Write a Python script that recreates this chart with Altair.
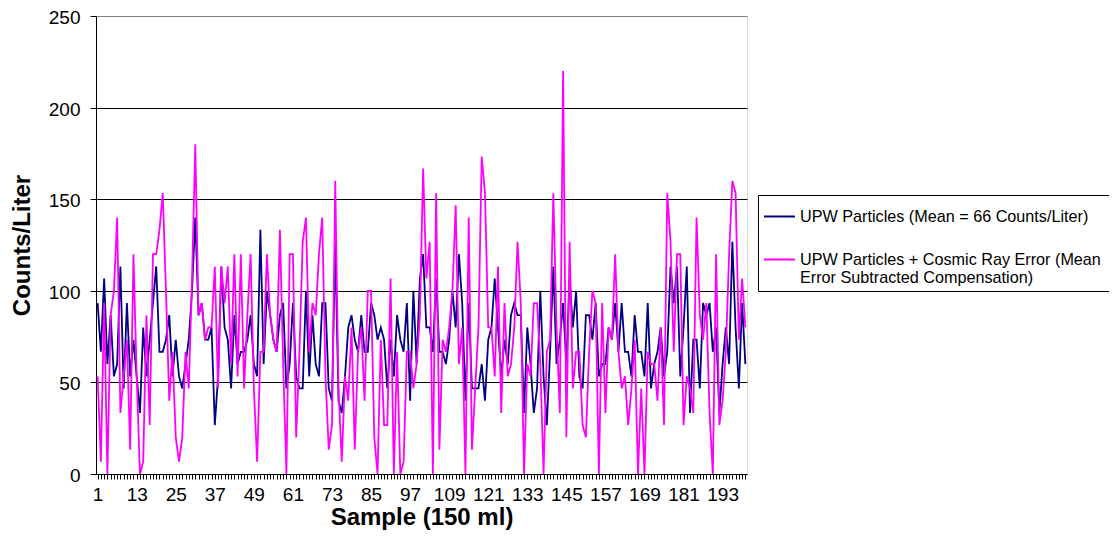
import json
import altair as alt
import pandas as pd

samples = list(range(1, 201))

upw = [
    93.3, 66.7, 106.7, 60, 86.7, 53.3, 60, 113.3, 46.7, 93.3,
    53.3, 73.3, 53.3, 33.3, 80, 53.3, 73.3, 93.3, 113.3, 66.7,
    66.7, 73.3, 86.7, 53.3, 73.3, 53.3, 46.7, 60, 73.3, 100,
    140, 86.7, 93.3, 73.3, 73.3, 80, 26.7, 53.3, 113.3, 80,
    73.3, 46.7, 86.7, 60, 66.7, 66.7, 73.3, 86.7, 60, 53.3,
    133.3, 60, 100, 86.7, 73.3, 66.7, 86.7, 93.3, 46.7, 60,
    93.3, 53.3, 46.7, 46.7, 100, 53.3, 86.7, 60, 53.3, 93.3,
    93.3, 46.7, 40, 126.7, 40, 33.3, 53.3, 80, 86.7, 73.3,
    66.7, 86.7, 66.7, 66.7, 93.3, 86.7, 73.3, 80, 73.3, 46.7,
    73.3, 53.3, 86.7, 73.3, 66.7, 93.3, 40, 100, 60, 106.7,
    120, 80, 80, 66.7, 106.7, 66.7, 66.7, 60, 73.3, 100,
    80, 120, 93.3, 40, 93.3, 46.7, 46.7, 46.7, 60, 40,
    73.3, 80, 106.7, 80, 53.3, 73.3, 60, 86.7, 93.3, 86.7,
    86.7, 33.3, 80, 60, 33.3, 46.7, 100, 53.3, 26.7, 66.7,
    113.3, 60, 73.3, 93.3, 60, 106.7, 80, 100, 53.3, 46.7,
    86.7, 86.7, 73.3, 93.3, 53.3, 60, 60, 80, 73.3, 93.3,
    66.7, 93.3, 66.7, 66.7, 53.3, 86.7, 66.7, 66.7, 53.3, 93.3,
    46.7, 60, 66.7, 80, 53.3, 66.7, 113.3, 93.3, 113.3, 53.3,
    80, 113.3, 33.3, 73.3, 73.3, 46.7, 93.3, 86.7, 93.3, 66.7,
    80, 33.3, 60, 80, 60, 126.7, 80, 46.7, 93.3, 60,
]

cosmic = [
    53.3, 6.7, 93.3, 0, 86.7, 100, 140, 33.3, 53.3, 73.3,
    13.3, 120, 53.3, 0, 6.7, 86.7, 26.7, 120, 120, 133.3,
    153.3, 100, 40, 66.7, 20, 6.7, 20, 66.7, 46.7, 106.7,
    180, 86.7, 93.3, 73.3, 80, 80, 113.3, 46.7, 113.3, 93.3,
    113.3, 60, 120, 53.3, 120, 46.7, 86.7, 120, 46.7, 6.7,
    66.7, 66.7, 120, 86.7, 73.3, 66.7, 133.3, 60, 0, 120,
    120, 20, 66.7, 126.7, 140, 66.7, 93.3, 86.7, 120, 140,
    53.3, 13.3, 26.7, 160, 46.7, 6.7, 53.3, 40, 80, 13.3,
    66.7, 80, 40, 100, 100, 20, 0, 73.3, 26.7, 26.7,
    106.7, 0, 66.7, 0, 6.7, 66.7, 66.7, 46.7, 60, 86.7,
    166.7, 106.7, 126.7, 0, 153.3, 13.3, 73.3, 66.7, 80, 100,
    146.7, 60, 80, 0, 140, 13.3, 46.7, 80, 173.3, 153.3,
    80, 80, 53.3, 113.3, 33.3, 93.3, 53.3, 60, 80, 126.7,
    93.3, 0, 60, 53.3, 93.3, 93.3, 60, 0, 66.7, 73.3,
    153.3, 80, 33.3, 220, 20, 126.7, 46.7, 66.7, 66.7, 26.7,
    20, 66.7, 100, 93.3, 0, 93.3, 33.3, 80, 73.3, 120,
    66.7, 46.7, 53.3, 26.7, 46.7, 73.3, 0, 46.7, 0, 66.7,
    60, 60, 40, 80, 26.7, 153.3, 126.7, 66.7, 120, 120,
    26.7, 53.3, 46.7, 33.3, 140, 86.7, 73.3, 93.3, 33.3, 0,
    120, 26.7, 40, 66.7, 120, 160, 153.3, 73.3, 106.7, 80,
]

series_names = [
    "UPW Particles (Mean = 66 Counts/Liter)",
    "UPW Particles + Cosmic Ray Error  (Mean Error Subtracted Compensation)",
]
legend_lines = [
    ["UPW Particles (Mean = 66 Counts/Liter)"],
    ["UPW Particles + Cosmic Ray Error  (Mean", "Error Subtracted Compensation)"],
]
series_colors = ["#000080", "#FF00FF"]
x_label_every = 12
y_ticks = [0, 50, 100, 150, 200, 250]

rows = []
for name, vals in zip(series_names, [upw, cosmic]):
    for s, v in zip(samples, vals):
        rows.append({"sample": s, "series": name, "value": v})
df = pd.DataFrame(rows)

label_expr = (
    "datum.label == " + json.dumps(series_names[1]) + " ? "
    + json.dumps(legend_lines[1]) + " : datum.label"
)

FONT = "Liberation Sans"

chart = alt.Chart(df).mark_line(strokeWidth=1.8).encode(
    x=alt.X(
        "sample:Q",
        scale=alt.Scale(domain=[0.5, 200.5], nice=False, zero=False),
        axis=alt.Axis(
            values=samples,
            labelExpr=f"(datum.value - 1) % {x_label_every} == 0 ? datum.label : ''",
            labelOverlap=False,
            labelFlush=False,
            tickSize=5,
            tickColor="black",
            domainColor="black",
            grid=False,
            labelFont=FONT,
            labelFontSize=19,
            labelColor="black",
            labelPadding=6,
            title="Sample (150 ml)",
            titleFont=FONT,
            titleFontSize=24,
            titleFontWeight="bold",
            titleColor="black",
            titlePadding=1,
        ),
    ),
    y=alt.Y(
        "value:Q",
        scale=alt.Scale(domain=[0, 250], nice=False),
        axis=alt.Axis(
            values=y_ticks,
            grid=True,
            gridColor={"condition": {"test": "datum.value === 250", "value": "#808080"}, "value": "black"},
            gridOpacity=1,
            gridWidth=1,
            tickSize=6,
            tickColor="black",
            domainColor="black",
            labelFont=FONT,
            labelFontSize=19,
            labelColor="black",
            labelPadding=10,
            labelOffset=1.5,
            title="Counts/Liter",
            titleFont=FONT,
            titleFontSize=24,
            titleFontWeight="bold",
            titleColor="black",
            titlePadding=14,
        ),
    ),
    color=alt.Color(
        "series:N",
        scale=alt.Scale(domain=series_names, range=series_colors),
        legend=alt.Legend(
            orient="none",
            legendX=662,
            legendY=179,
            title=None,
            symbolType="stroke",
            symbolSize=961,
            symbolStrokeWidth=2,
            labelFont=FONT,
            labelFontSize=16.2,
            labelColor="black",
            labelLimit=1000,
            labelOffset=4,
            labelExpr=label_expr,
            padding=5,
            rowPadding=18,
            strokeColor="black",
            fillColor="white",
        ),
    ),
    detail="series:N",
).properties(
    width=651,
    height=458,
    autosize=alt.AutoSizeParams(type="none"),
    padding={"left": 88, "top": 8, "right": 362, "bottom": 77},
).configure_view(
    fill="#C0C0C0",
    stroke="#808080",
    strokeWidth=1,
).configure(background="white")

chart.save("out.html", embed_options={"renderer": "svg", "actions": False})
